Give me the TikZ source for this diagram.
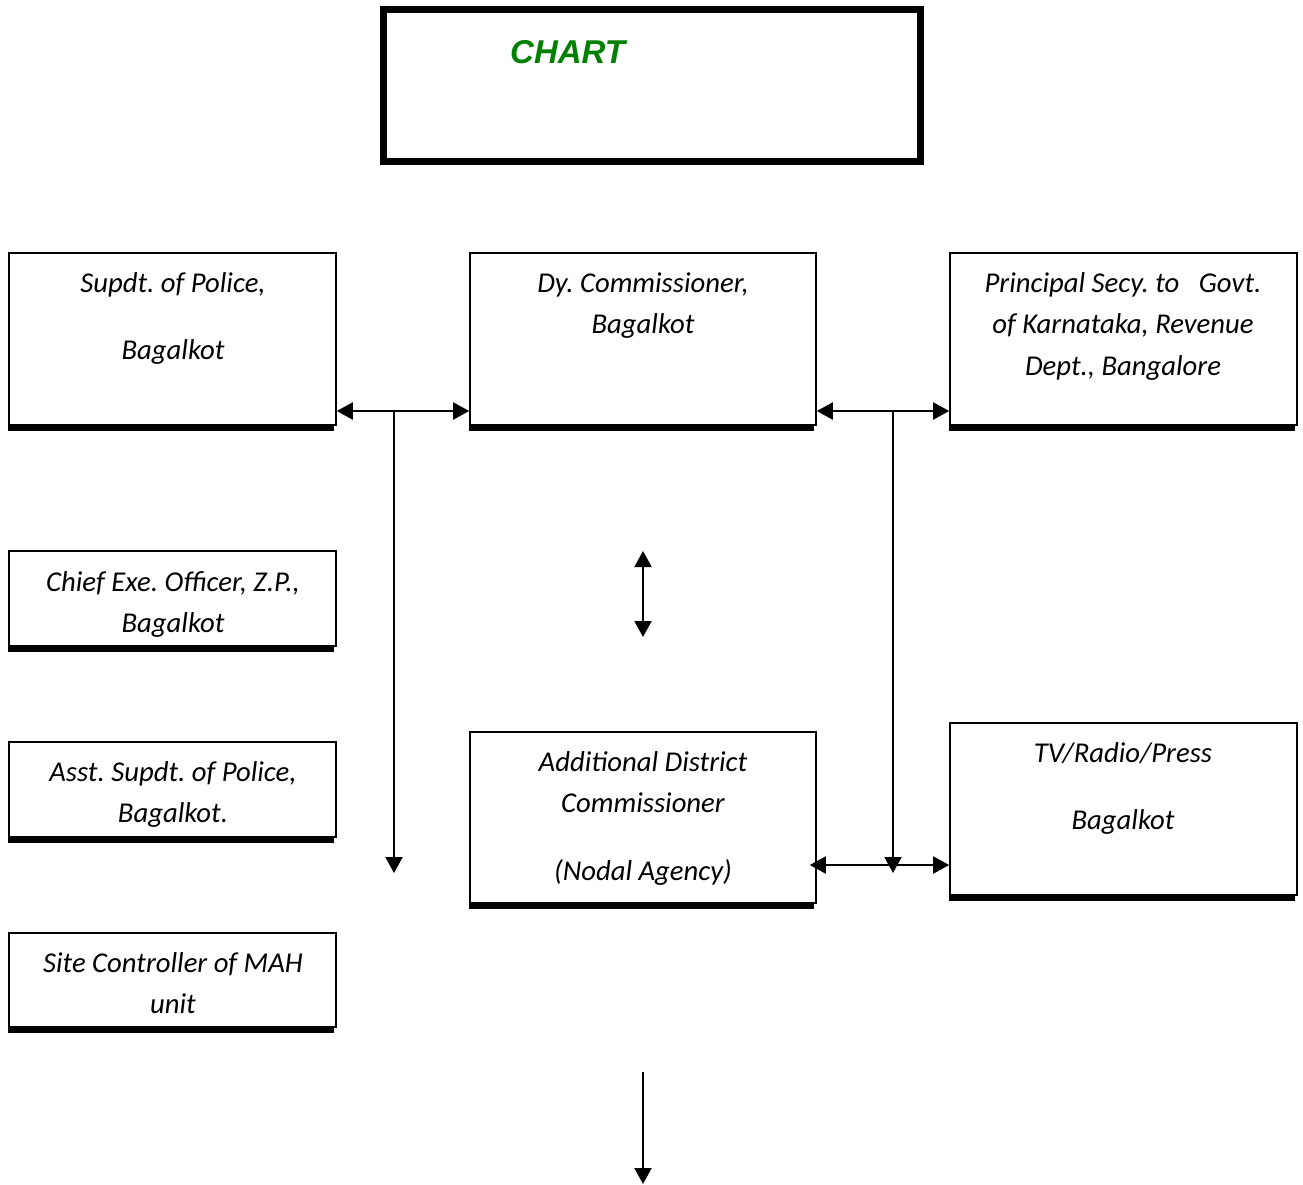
\documentclass[tikz,border=0pt]{standalone}
\usepackage{fontspec}
\setmainfont{Carlito}
\newfontfamily\titlefont{Liberation Sans}
\usetikzlibrary{arrows.meta,calc}
\definecolor{chartgreen}{RGB}{0,128,0}
\frenchspacing
\begin{document}
\begin{tikzpicture}[x=1pt,y=-1pt,
  box/.style={draw=black,line width=1.6pt,fill=white,inner sep=0pt},
  lbl/.style={font=\fontsize{28.7}{34}\selectfont\itshape\frenchspacing,inner sep=0pt,text height=20pt,text depth=6pt},
  conn/.style={line width=2pt,draw=black},
  shadowline/.style={line width=5pt,draw=black},
  >={Triangle[length=16pt,width=17pt]}
]
\useasboundingbox (0,0) rectangle (1303,1184);
\fill[white] (0,0) rectangle (1303,1184);

% title box
\node[draw=black,line width=7pt,minimum width=537pt,minimum height=152pt,inner sep=0pt] (title) at (652,85.5) {};
\node[font=\titlefont\fontsize{33}{36}\selectfont\bfseries\itshape,text=chartgreen,anchor=west,inner sep=0pt] (titletext) at (510,52) {CHART};

% boxes
\node[box,minimum width=327pt,minimum height=172pt] (sp) at (172.5,339) {};
\node[box,minimum width=346pt,minimum height=172pt] (dc) at (643,339) {};
\node[box,minimum width=347pt,minimum height=172pt] (pr) at (1123.5,339) {};
\node[box,minimum width=327pt,minimum height=95pt] (ceo) at (172.5,598.5) {};
\node[box,minimum width=327pt,minimum height=95pt] (asp) at (172.5,789.5) {};
\node[box,minimum width=327pt,minimum height=94pt] (site) at (172.5,980) {};
\node[box,minimum width=346pt,minimum height=171pt] (adc) at (643,817.5) {};
\node[box,minimum width=347pt,minimum height=172pt] (tv) at (1123.5,809) {};

% shadows
\foreach \b in {sp,dc,pr,ceo,asp,site,adc,tv}{
  \draw[shadowline] ($(\b.south west)+(0,3)$) -- ($(\b.south east)+(-3,3)$);
}

% texts
\node[lbl] (sp1) at (173,285) {Supdt. of Police,};
\node[lbl] (sp2) at (173,352) {Bagalkot};
\node[lbl] (dc1) at (643,285) {Dy. Commissioner,};
\node[lbl] (dc2) at (643,326) {Bagalkot};
\node[lbl] (pr1) at (1123,285) {Principal Secy. to \ \ Govt.};
\node[lbl] (pr2) at (1123,326) {of Karnataka, Revenue};
\node[lbl] (pr3) at (1123,368) {Dept., Bangalore};
\node[lbl] (ceo1) at (173,584) {Chief Exe. Officer, Z.P.,};
\node[lbl] (ceo2) at (173,625) {Bagalkot};
\node[lbl] (asp1) at (173,774) {Asst. Supdt. of Police,};
\node[lbl] (asp2) at (173,815) {Bagalkot.};
\node[lbl] (site1) at (173,965) {Site Controller of MAH};
\node[lbl] (site2) at (173,1006) {unit};
\node[lbl] (adc1) at (643,764) {Additional District};
\node[lbl] (adc2) at (643,805) {Commissioner};
\node[lbl] (adc3) at (643,873) {(Nodal Agency)};
\node[lbl] (tv1) at (1123,755) {TV/Radio/Press};
\node[lbl] (tv2) at (1123,822) {Bagalkot};

% junction coordinates
\coordinate (j1) at (394,411);
\coordinate (e1) at (394,873);
\coordinate (j2) at (893,411);
\coordinate (e2) at (893,873);
\coordinate (j3) at (893,865);
\coordinate (v1) at (643,551);
\coordinate (v2) at (643,637);
\coordinate (b1) at (643,1072);
\coordinate (b2) at (643,1184);

% connectors
\draw[conn,<->] (sp.east |- j1) -- (dc.west |- j1);
\draw[conn,->] (j1) -- (e1);
\draw[conn,<->] (dc.east |- j2) -- (pr.west |- j2);
\draw[conn,->] (j2) -- (e2);
\draw[conn,<->] ($(adc.east |- j3)+(-7,0)$) -- (tv.west |- j3);
\draw[conn,<->] (v1) -- (v2);
\draw[conn,->] (b1) -- (b2);
\end{tikzpicture}
\end{document}
